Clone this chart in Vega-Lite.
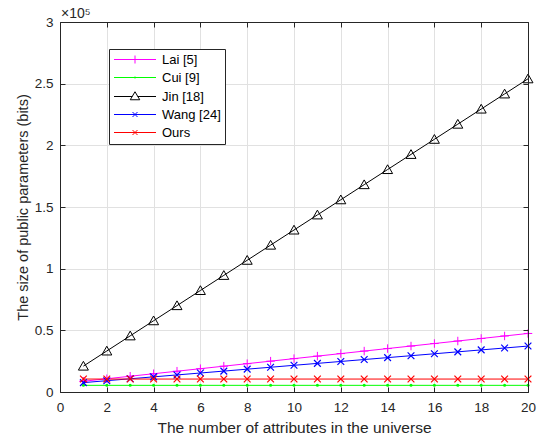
{
  "$schema": "https://vega.github.io/schema/vega-lite/v6.json",
  "width": 468,
  "height": 370,
  "autosize": {"type": "none"},
  "padding": {"left": 60, "top": 22, "right": 14, "bottom": 49},
  "background": "#ffffff",
  "title": {"text": "×10⁵", "anchor": "start", "frame": "group", "orient": "top", "offset": -6, "dx": 1, "fontSize": 14, "font": "Liberation Sans", "fontWeight": "normal", "color": "#262626"},
  "datasets": {
    "d": [
      {"n": 1, "series": "Lai [5]", "bits": 8700}, {"n": 2, "series": "Lai [5]", "bits": 10740}, {"n": 3, "series": "Lai [5]", "bits": 12780}, {"n": 4, "series": "Lai [5]", "bits": 14820}, {"n": 5, "series": "Lai [5]", "bits": 16860},
      {"n": 6, "series": "Lai [5]", "bits": 18900}, {"n": 7, "series": "Lai [5]", "bits": 20940}, {"n": 8, "series": "Lai [5]", "bits": 22980}, {"n": 9, "series": "Lai [5]", "bits": 25020}, {"n": 10, "series": "Lai [5]", "bits": 27060},
      {"n": 11, "series": "Lai [5]", "bits": 29100}, {"n": 12, "series": "Lai [5]", "bits": 31140}, {"n": 13, "series": "Lai [5]", "bits": 33180}, {"n": 14, "series": "Lai [5]", "bits": 35220}, {"n": 15, "series": "Lai [5]", "bits": 37260},
      {"n": 16, "series": "Lai [5]", "bits": 39300}, {"n": 17, "series": "Lai [5]", "bits": 41340}, {"n": 18, "series": "Lai [5]", "bits": 43380}, {"n": 19, "series": "Lai [5]", "bits": 45420}, {"n": 20, "series": "Lai [5]", "bits": 47460},
      {"n": 1, "series": "Cui [9]", "bits": 5400}, {"n": 2, "series": "Cui [9]", "bits": 5400}, {"n": 3, "series": "Cui [9]", "bits": 5400}, {"n": 4, "series": "Cui [9]", "bits": 5400}, {"n": 5, "series": "Cui [9]", "bits": 5400},
      {"n": 6, "series": "Cui [9]", "bits": 5400}, {"n": 7, "series": "Cui [9]", "bits": 5400}, {"n": 8, "series": "Cui [9]", "bits": 5400}, {"n": 9, "series": "Cui [9]", "bits": 5400}, {"n": 10, "series": "Cui [9]", "bits": 5400},
      {"n": 11, "series": "Cui [9]", "bits": 5400}, {"n": 12, "series": "Cui [9]", "bits": 5400}, {"n": 13, "series": "Cui [9]", "bits": 5400}, {"n": 14, "series": "Cui [9]", "bits": 5400}, {"n": 15, "series": "Cui [9]", "bits": 5400},
      {"n": 16, "series": "Cui [9]", "bits": 5400}, {"n": 17, "series": "Cui [9]", "bits": 5400}, {"n": 18, "series": "Cui [9]", "bits": 5400}, {"n": 19, "series": "Cui [9]", "bits": 5400}, {"n": 20, "series": "Cui [9]", "bits": 5400},
      {"n": 1, "series": "Jin [18]", "bits": 21000}, {"n": 2, "series": "Jin [18]", "bits": 33260}, {"n": 3, "series": "Jin [18]", "bits": 45520}, {"n": 4, "series": "Jin [18]", "bits": 57780}, {"n": 5, "series": "Jin [18]", "bits": 70040},
      {"n": 6, "series": "Jin [18]", "bits": 82300}, {"n": 7, "series": "Jin [18]", "bits": 94560}, {"n": 8, "series": "Jin [18]", "bits": 106820}, {"n": 9, "series": "Jin [18]", "bits": 119080}, {"n": 10, "series": "Jin [18]", "bits": 131340},
      {"n": 11, "series": "Jin [18]", "bits": 143600}, {"n": 12, "series": "Jin [18]", "bits": 155860}, {"n": 13, "series": "Jin [18]", "bits": 168120}, {"n": 14, "series": "Jin [18]", "bits": 180380}, {"n": 15, "series": "Jin [18]", "bits": 192640},
      {"n": 16, "series": "Jin [18]", "bits": 204900}, {"n": 17, "series": "Jin [18]", "bits": 217160}, {"n": 18, "series": "Jin [18]", "bits": 229420}, {"n": 19, "series": "Jin [18]", "bits": 241680}, {"n": 20, "series": "Jin [18]", "bits": 253940},
      {"n": 1, "series": "Wang [24]", "bits": 7600}, {"n": 2, "series": "Wang [24]", "bits": 9160}, {"n": 3, "series": "Wang [24]", "bits": 10720}, {"n": 4, "series": "Wang [24]", "bits": 12280}, {"n": 5, "series": "Wang [24]", "bits": 13840},
      {"n": 6, "series": "Wang [24]", "bits": 15400}, {"n": 7, "series": "Wang [24]", "bits": 16960}, {"n": 8, "series": "Wang [24]", "bits": 18520}, {"n": 9, "series": "Wang [24]", "bits": 20080}, {"n": 10, "series": "Wang [24]", "bits": 21640},
      {"n": 11, "series": "Wang [24]", "bits": 23200}, {"n": 12, "series": "Wang [24]", "bits": 24760}, {"n": 13, "series": "Wang [24]", "bits": 26320}, {"n": 14, "series": "Wang [24]", "bits": 27880}, {"n": 15, "series": "Wang [24]", "bits": 29440},
      {"n": 16, "series": "Wang [24]", "bits": 31000}, {"n": 17, "series": "Wang [24]", "bits": 32560}, {"n": 18, "series": "Wang [24]", "bits": 34120}, {"n": 19, "series": "Wang [24]", "bits": 35680}, {"n": 20, "series": "Wang [24]", "bits": 37240},
      {"n": 1, "series": "Ours", "bits": 10500}, {"n": 2, "series": "Ours", "bits": 10500}, {"n": 3, "series": "Ours", "bits": 10500}, {"n": 4, "series": "Ours", "bits": 10500}, {"n": 5, "series": "Ours", "bits": 10500},
      {"n": 6, "series": "Ours", "bits": 10500}, {"n": 7, "series": "Ours", "bits": 10500}, {"n": 8, "series": "Ours", "bits": 10500}, {"n": 9, "series": "Ours", "bits": 10500}, {"n": 10, "series": "Ours", "bits": 10500},
      {"n": 11, "series": "Ours", "bits": 10500}, {"n": 12, "series": "Ours", "bits": 10500}, {"n": 13, "series": "Ours", "bits": 10500}, {"n": 14, "series": "Ours", "bits": 10500}, {"n": 15, "series": "Ours", "bits": 10500},
      {"n": 16, "series": "Ours", "bits": 10500}, {"n": 17, "series": "Ours", "bits": 10500}, {"n": 18, "series": "Ours", "bits": 10500}, {"n": 19, "series": "Ours", "bits": 10500}, {"n": 20, "series": "Ours", "bits": 10500}
    ]
  },
  "data": {"name": "d"},
  "resolve": {"axis": {"x": "independent", "y": "independent"}},
  "layer": [
    {
      "mark": {"type": "point", "filled": false, "opacity": 0},
      "encoding": {
        "x": {"field": "n", "type": "quantitative", "scale": {"domain": [0, 20], "nice": false, "zero": false},
              "axis": {"orient": "bottom", "grid": true, "labels": true, "ticks": false, "domain": false, "values": [0, 2, 4, 6, 8, 10, 12, 14, 16, 18, 20], "title": "The number of attributes in the universe", "titleFontSize": 15.5, "labelPadding": 8, "titlePadding": 7, "zindex": 0}},
        "y": {"field": "bits", "type": "quantitative", "scale": {"domain": [0, 300000], "nice": false},
              "axis": {"orient": "left", "grid": true, "labels": true, "ticks": false, "domain": false, "values": [0, 50000, 100000, 150000, 200000, 250000, 300000], "labelExpr": "format(datum.value / 100000, '~g')", "title": "The size of public parameters (bits)", "titleFontSize": 14.5, "labelPadding": 7, "titlePadding": 4, "zindex": 0}},
        "color": {"field": "series", "type": "nominal", "title": null,
                  "scale": {"domain": ["Lai [5]", "Cui [9]", "Jin [18]", "Wang [24]", "Ours"], "range": ["#ff00ff", "#00ff00", "#000000", "#0000ff", "#ff0000"]}},
        "shape": {"field": "series", "type": "nominal", "title": null,
                  "scale": {"domain": ["Lai [5]", "Cui [9]", "Jin [18]", "Wang [24]", "Ours"],
                            "range": [
                              "M-1.1,0L7.3,0M3.1,-0.8L3.1,0.8",
                              "M-1.1,0L7.3,0M3.1,-0.15L3.25,0L3.1,0.15L2.95,0Z",
                              "M-1.1,0L2.56,0M3.64,0L7.3,0M3.1,-0.95L4.05,0.65M4.05,0.65L2.15,0.65M2.15,0.65L3.1,-0.95",
                              "M-1.1,0L7.3,0M2.6,-0.5L3.6,0.5M2.6,0.5L3.6,-0.5",
                              "M-1.1,0L7.3,0M2.6,-0.5L3.6,0.5M2.6,0.5L3.6,-0.5"
                            ]}}
      }
    },
    {
      "mark": {"type": "line", "strokeWidth": 1, "clip": false},
      "encoding": {
        "x": {"field": "n", "type": "quantitative", "axis": {"orient": "bottom", "grid": false, "labels": false, "ticks": true, "tickSize": -5, "domain": true, "values": [0, 2, 4, 6, 8, 10, 12, 14, 16, 18, 20], "title": null, "zindex": 1}},
        "y": {"field": "bits", "type": "quantitative", "axis": {"orient": "left", "grid": false, "labels": false, "ticks": true, "tickSize": -5, "domain": true, "values": [0, 50000, 100000, 150000, 200000, 250000, 300000], "title": null, "zindex": 1}},
        "color": {"field": "series", "type": "nominal", "title": null},
        "detail": {"field": "series"}
      }
    },
    {
      "transform": [{"filter": "datum.series === 'Lai [5]'"}],
      "mark": {"type": "point", "filled": false, "shape": "M-1,0L1,0M0,-1L0,1", "size": 72, "strokeWidth": 1, "opacity": 1, "clip": false},
      "encoding": {
        "x": {"field": "n", "type": "quantitative", "axis": {"orient": "top", "grid": false, "labels": false, "ticks": true, "tickSize": -5, "domain": true, "values": [0, 2, 4, 6, 8, 10, 12, 14, 16, 18, 20], "title": null, "zindex": 1}},
        "y": {"field": "bits", "type": "quantitative", "axis": {"orient": "right", "grid": false, "labels": false, "ticks": true, "tickSize": -5, "domain": true, "values": [0, 50000, 100000, 150000, 200000, 250000, 300000], "title": null, "zindex": 1}},
        "color": {"field": "series", "type": "nominal", "title": null}
      }
    },
    {
      "transform": [{"filter": "datum.series === 'Cui [9]'"}],
      "mark": {"type": "point", "filled": true, "shape": "circle", "size": 9, "opacity": 1, "clip": false},
      "encoding": {
        "x": {"field": "n", "type": "quantitative", "axis": null},
        "y": {"field": "bits", "type": "quantitative", "axis": null},
        "color": {"field": "series", "type": "nominal", "title": null}
      }
    },
    {
      "transform": [{"filter": "datum.series === 'Jin [18]'"}],
      "mark": {"type": "point", "filled": false, "shape": "M0,-0.95L1,0.8L-1,0.8Z", "size": 100, "strokeWidth": 1, "opacity": 1, "clip": false},
      "encoding": {
        "x": {"field": "n", "type": "quantitative", "axis": null},
        "y": {"field": "bits", "type": "quantitative", "axis": null},
        "color": {"field": "series", "type": "nominal", "title": null}
      }
    },
    {
      "transform": [{"filter": "datum.series === 'Wang [24]' || datum.series === 'Ours'"}],
      "mark": {"type": "point", "filled": false, "shape": "M-0.75,-0.75L0.75,0.75M-0.75,0.75L0.75,-0.75", "size": 81, "strokeWidth": 1.2, "opacity": 1, "clip": false},
      "encoding": {
        "x": {"field": "n", "type": "quantitative", "axis": null},
        "y": {"field": "bits", "type": "quantitative", "axis": null},
        "color": {"field": "series", "type": "nominal", "title": null}
      }
    }
  ],
  "config": {
    "font": "Liberation Sans",
    "view": {"stroke": null},
    "axis": {
      "labelFont": "Liberation Sans", "labelFontSize": 13.5, "labelColor": "#262626", "labelFlush": false,
      "titleFont": "Liberation Sans", "titleFontWeight": "normal", "titleColor": "#262626",
      "gridColor": "#e1e1e1", "gridWidth": 1, "gridOpacity": 1,
      "domainColor": "#262626", "domainWidth": 1, "tickColor": "#262626", "tickWidth": 1
    },
    "legend": {
      "orient": "none", "legendX": 49, "legendY": 27,
      "strokeColor": "#262626", "fillColor": "#ffffff", "padding": 4,
      "labelFont": "Liberation Sans", "labelFontSize": 13, "labelColor": "#000000",
      "symbolSize": 100, "symbolStrokeWidth": 1, "symbolOpacity": 1, "symbolFillColor": "transparent",
      "rowPadding": 4, "labelOffset": 36
    }
  }
}
